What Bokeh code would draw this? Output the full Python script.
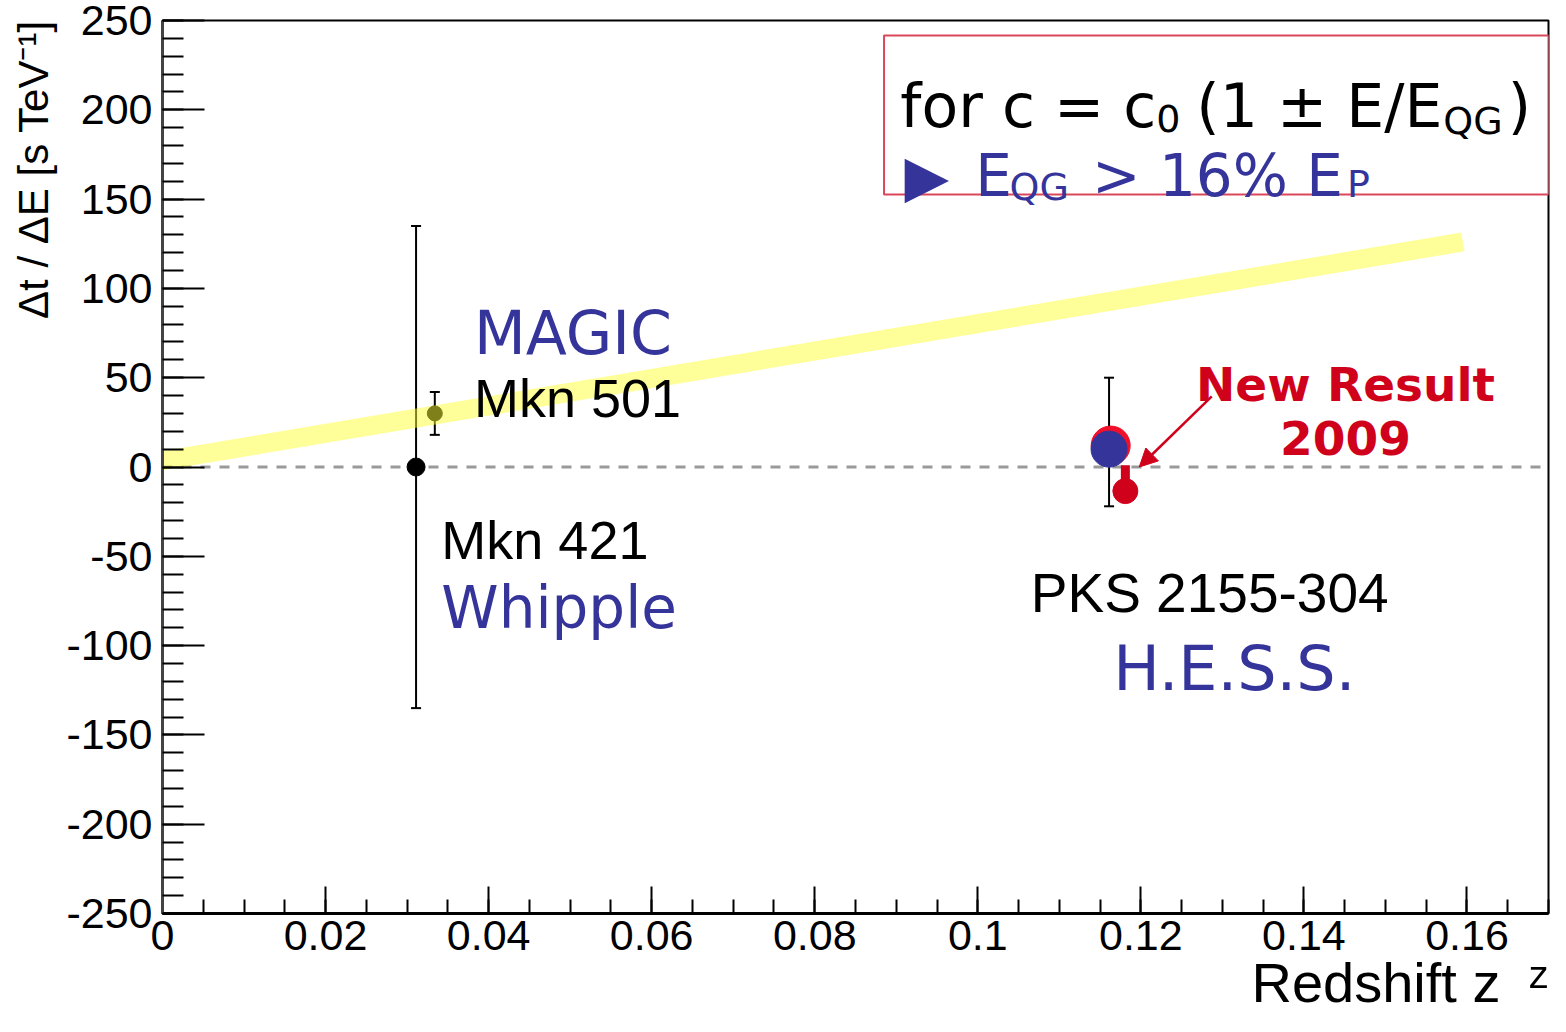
import numpy as np
from bokeh.plotting import figure
from bokeh.models import (Range1d, FixedTicker, Label, BoxAnnotation, Whisker, TeeHead,
                          Arrow, NormalHead, ColumnDataSource, Span, Title)
from bokeh.embed import file_html
from bokeh.resources import INLINE

# ---------------- data ----------------
x_ticks = [0, 0.02, 0.04, 0.06, 0.08, 0.1, 0.12, 0.14, 0.16]
x_tick_labels = ["0", "0.02", "0.04", "0.06", "0.08", "0.1", "0.12", "0.14", "0.16"]
y_ticks = [-250, -200, -150, -100, -50, 0, 50, 100, 150, 200, 250]
y_tick_labels = ["-250", "-200", "-150", "-100", "-50", "0", "50", "100", "150", "200", "250"]

# Mkn 421 (Whipple)
mkn421_z = [0.0311]
mkn421_dt = [0.0]
mkn421_lo = [-135.0]
mkn421_hi = [135.0]

# Mkn 501 (MAGIC)
mkn501_z = [0.0334]
mkn501_dt = [30.0]
mkn501_lo = [18.0]
mkn501_hi = [42.0]

# PKS 2155-304 (H.E.S.S.)
hess_z = [0.1161]
hess_dt = [10.0]
hess_lo = [-22.0]
hess_hi = [50.0]
hess_halo_z = [0.1163]
hess_halo_dt = [12.0]

# New result 2009
new_z = [0.1181]
new_dt = [-13.5]
new_lo = [-20.0]
new_hi = [1.0]

# limit band  E_QG > 16% E_P
band_z = [0.0, 0.1595]
band_dt = [3.5, 126.0]

# arrow "New Result 2009"
arrow_z = [0.1287, 0.1198]
arrow_dt = [39.6, 0.0]

BLUE = "#35349a"
RED = "#d0021b"

p = figure(width=1550, height=1016, x_range=Range1d(0, 0.17), y_range=Range1d(-250, 250),
           output_backend="svg", toolbar_location=None,
           min_border_left=161, min_border_right=2, min_border_top=20, min_border_bottom=103)
p.xgrid.visible = False
p.ygrid.visible = False
p.background_fill_color = "white"
p.border_fill_color = "white"
p.outline_line_color = "black"
p.outline_line_width = 2

# axes
p.xaxis.ticker = FixedTicker(ticks=x_ticks, minor_ticks=list(np.round(np.arange(0, 0.1701, 0.005), 3)))
p.xaxis.major_label_overrides = dict(zip(x_ticks, x_tick_labels))
p.yaxis.ticker = FixedTicker(ticks=y_ticks, minor_ticks=list(range(-250, 251, 10)))
p.yaxis.major_label_overrides = dict(zip(y_ticks, y_tick_labels))
for ax in (p.xaxis[0], p.yaxis[0]):
    ax.major_tick_out = 0
    ax.minor_tick_out = 0
    ax.axis_line_width = 3
    ax.major_tick_line_width = 2
    ax.minor_tick_line_width = 2
    ax.major_tick_line_color = "black"
    ax.minor_tick_line_color = "black"
    ax.major_label_text_font = "Liberation Sans"
    ax.major_label_text_font_size = "43px"
    ax.major_label_text_color = "black"
p.yaxis[0].major_label_standoff = 10
p.xaxis[0].major_label_standoff = 7
p.yaxis[0].major_tick_in = 42
p.yaxis[0].minor_tick_in = 21
p.yaxis[0].axis_line_color = "#444444"
p.xaxis[0].major_tick_in = 27
p.xaxis[0].minor_tick_in = 14
p.xaxis[0].axis_line_color = "black"

# axis titles (as side-panel titles so they sit outside the frame)
p.add_layout(Title(text="Redshift z\u2002\u1dbb", align="right", offset=0, standoff=-7,
                   text_font="Liberation Sans", text_font_style="normal",
                   text_font_size="56px", text_color="black"), "below")
p.add_layout(Title(text="\u0394t / \u0394E  [s TeV\u207b\u00b9]", align="right", offset=-12, standoff=14,
                   text_font="Liberation Sans", text_font_style="normal",
                   text_font_size="42px", text_color="black"), "left")

# zero line
p.add_layout(Span(location=0, dimension="width", line_color="#9a9a9a", line_width=3,
                  line_dash="10 9", level="underlay"))

# error bars
def whisker(z, lo, hi, color="black", width=2, head=10):
    src = ColumnDataSource(dict(z=z, lo=lo, hi=hi))
    p.add_layout(Whisker(source=src, base="z", lower="lo", upper="hi", dimension="height",
                         line_color=color, line_width=width,
                         upper_head=TeeHead(size=head, line_color=color, line_width=2),
                         lower_head=TeeHead(size=head, line_color=color, line_width=2)))

whisker(mkn421_z, mkn421_lo, mkn421_hi)
whisker(mkn501_z, mkn501_lo, mkn501_hi)
whisker(hess_z, hess_lo, hess_hi)

# markers
p.scatter(mkn421_z, mkn421_dt, size=18, color="black")
p.scatter(mkn501_z, mkn501_dt, size=15, color="black")
p.scatter(hess_halo_z, hess_halo_dt, size=39, color="#f0102a")
p.scatter(hess_z, hess_dt, size=36, color=BLUE)
p.segment(x0=new_z, y0=new_lo, x1=new_z, y1=new_hi, line_width=9, color=RED)
p.scatter(new_z, new_dt, size=25, color=RED)

# band
p.line(band_z, band_dt, line_width=19, color="#ffff33", alpha=0.5, line_cap="butt")

# arrow
p.add_layout(Arrow(end=NormalHead(size=18, fill_color=RED, line_color=RED, line_width=1),
                   x_start=arrow_z[0], y_start=arrow_dt[0], x_end=arrow_z[1], y_end=arrow_dt[1],
                   line_color=RED, line_width=2.5))

# legend box
p.add_layout(BoxAnnotation(left=0.0885, right=0.17, bottom=152.6, top=241.6,
                           fill_color="white", fill_alpha=1.0,
                           line_color="#d9485a", line_width=2, line_alpha=1.0))


def txt(x, y, text, size, color="black", font="DejaVu Sans", style="normal", align="left", angle=0.0):
    p.add_layout(Label(x=x, y=y, text=text, text_font=font, text_font_size=size,
                       text_color=color, text_font_style=style, text_align=align,
                       text_baseline="alphabetic", angle=angle))

# legend text
txt(0.0905, 202.4, "for c = c", "60px")
txt(0.1219, 195.1, "0", "38px")
txt(0.1268, 202.4, "(1 \u00b1 E/E", "60px")
txt(0.1571, 194.0, "QG", "38px")
txt(0.1650, 202.4, ")", "60px")
txt(0.0910, 163.2, "\u25b6", "58px", BLUE)
txt(0.0997, 163.2, "E", "58px", BLUE)
txt(0.1039, 156.5, "QG", "38px", BLUE)
txt(0.1140, 163.2, "> 16% E", "58px", BLUE)
txt(0.1453, 158.5, "P", "38px", BLUE)

# annotations in plot
txt(0.0382, 74.8, "MAGIC", "60px", BLUE)
txt(0.0382, 38.4, "Mkn 501", "54px", "black", "Liberation Sans")
txt(0.0342, -40.6, "Mkn 421", "54px", "black", "Liberation Sans")
txt(0.0342, -79.2, "Whipple", "58px", BLUE)
txt(0.1065, -70.3, "PKS 2155-304", "55px", "black", "Liberation Sans")
txt(0.1166, -112.8, "H.E.S.S.", "62px", BLUE)
txt(0.1451, 46.2, "New Result", "47px", RED, "DejaVu Sans", "bold", "center")
txt(0.1451, 16.0, "2009", "47px", RED, "DejaVu Sans", "bold", "center")

open("out.html", "w").write(file_html(p, INLINE))
